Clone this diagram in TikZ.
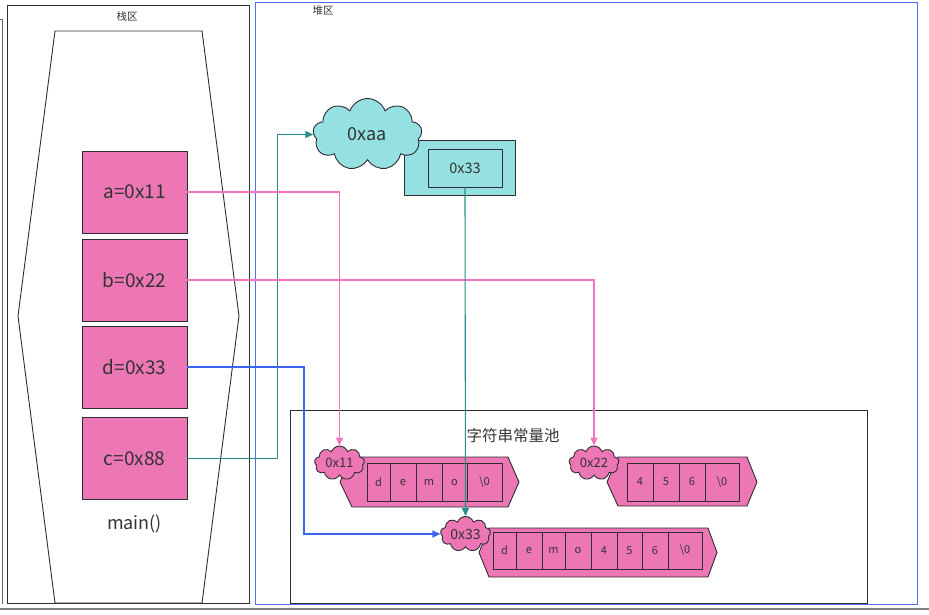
\documentclass[tikz,border=0pt]{standalone}
\usepackage{fontspec}
\setmainfont{Noto Sans CJK SC}
\usetikzlibrary{shapes.symbols,arrows.meta}
\definecolor{pinkf}{RGB}{237,119,181}
\definecolor{cyanf}{RGB}{149,224,224}
\definecolor{edgec}{RGB}{45,45,50}
\definecolor{txtc}{RGB}{51,51,51}
\definecolor{pinkl}{RGB}{242,118,190}
\definecolor{teall}{RGB}{40,140,140}
\definecolor{bluel}{RGB}{60,100,240}
\definecolor{bluef}{RGB}{80,112,240}
\begin{document}
\begin{tikzpicture}[x=1pt,y=-1pt,
  frame/.style={draw=edgec, line width=0.9pt},
  varbox/.style={draw=edgec, fill=pinkf, line width=0.9pt, minimum width=105pt, minimum height=82pt, inner sep=0pt, text=txtc, font=\fontsize{19}{21}\selectfont},
  hexa/.style={draw=edgec, fill=pinkf, line width=0.9pt},
  cell/.style={draw=edgec, fill=pinkf, line width=0.9pt, minimum height=38pt, inner sep=0pt, text=txtc, font=\fontsize{11}{12}\selectfont},
  cloudn/.style={cloud, cloud puffs=9, cloud puff arc=140, cloud ignores aspect, draw=edgec, line width=0.9pt, inner sep=0pt, text=txtc},
  lbl/.style={text=txtc, inner sep=0pt},
  conn/.style={line width=1.1pt, -{Triangle[length=8pt,width=7pt]}}
]
\useasboundingbox (0,0) rectangle (929,614);
% background partial frame and ruler
\draw[draw=gray!80!black, line width=0.9pt] (0,19) -- (2.5,19) -- (2.5,604);
\draw[draw=gray, line width=2pt] (0,609) -- (929,609);
% stack region
\draw[frame] (7,5) rectangle (249.5,603);
\node[lbl, font=\fontsize{10.5}{12}\selectfont] (stk) at (127,17) {栈区};
\draw[draw=edgec, line width=0.9pt] (55,31) -- (202,31) -- (239,316) -- (202,603) -- (55,603) -- (18,316) -- cycle;
% heap region
\draw[draw=bluef, line width=1pt] (255,2) rectangle (917,604);
\node[lbl, font=\fontsize{10.5}{12}\selectfont] (hp) at (323,10.5) {堆区};
% string constant pool
\draw[frame] (290.5,410) rectangle (867.5,603);
\node[lbl, font=\fontsize{15.5}{17}\selectfont] (pool) at (513,435.5) {字符串常量池};
% string shapes
\draw[hexa] (352,457) -- (508,457) -- (519,482) -- (508,507) -- (352,507) -- (340,482) -- cycle;
\foreach \xa/\xb/\t [count=\i] in {367/390/d, 390/416/e, 416/442/m, 442/467/o, 467/502/{\textbackslash 0}}{
  \pgfmathsetmacro\w{\xb-\xa}
  \pgfmathsetmacro\xm{(\xa+\xb)/2}
  \node[cell, minimum width=\w pt] (sa\i) at (\xm,482) {\t};
}
\draw[hexa] (618,457) -- (747,457) -- (757,482) -- (747,506) -- (618,506) -- (607,482) -- cycle;
\foreach \xa/\xb/\t [count=\i] in {627/653/4, 653/679/5, 679/705/6, 705/739/{\textbackslash 0}}{
  \pgfmathsetmacro\w{\xb-\xa}
  \pgfmathsetmacro\xm{(\xa+\xb)/2}
  \node[cell, minimum width=\w pt] (sb\i) at (\xm,482) {\t};
}
\draw[hexa] (489,528) -- (708,528) -- (717,552.5) -- (708,577) -- (489,577) -- (479,552.5) -- cycle;
\foreach \xa/\xb/\t [count=\i] in {493/516/d, 516/542/e, 542/565/m, 565/591/o, 591/617/4, 617/642/5, 642/668/6, 668/702/{\textbackslash 0}}{
  \pgfmathsetmacro\w{\xb-\xa}
  \pgfmathsetmacro\xm{(\xa+\xb)/2}
  \node[cell, minimum width=\w pt, minimum height=37pt] (sc\i) at (\xm,550.5) {\t};
}
% heap object
\node[draw=edgec, fill=cyanf, line width=0.9pt, minimum width=111pt, minimum height=55pt, inner sep=0pt] (obj) at (459.5,167.5) {};
\node[draw=edgec, fill=cyanf, line width=0.9pt, minimum width=74pt, minimum height=38pt, inner sep=0pt, text=txtc, font=\fontsize{14.5}{16}\selectfont] (i33) at (465,168) {0x33};
% clouds
\node[cloudn, fill=cyanf, minimum width=109pt, minimum height=72pt, font=\fontsize{18}{20}\selectfont] (caa) at (367.5,134.5) {0xaa};
\node[cloudn, fill=pinkf, minimum width=50pt, minimum height=34pt, font=\fontsize{13}{14}\selectfont] (c11) at (339.5,463) {0x11};
\node[cloudn, fill=pinkf, minimum width=50pt, minimum height=34pt, font=\fontsize{13}{14}\selectfont] (c22) at (594,463) {0x22};
\node[cloudn, fill=pinkf, minimum width=50pt, minimum height=35pt, font=\fontsize{14}{15}\selectfont] (c33) at (465.5,534) {0x33};
% stack variables
\node[varbox] (va) at (134.5,192) {a=0x11};
\node[varbox] (vb) at (134.5,280) {b=0x22};
\node[varbox] (vd) at (134.5,367) {d=0x33};
\node[varbox] (vc) at (134.5,458.5) {c=0x88};
\node[lbl, font=\fontsize{18}{20}\selectfont] (mainl) at (134.5,524) {main()};
% connectors
\draw[conn, draw=teall] (vc.east) -- ++(90,0) |- (caa.west);
\draw[conn, draw=pinkl] (va.east) -| (c11.north);
\draw[conn, draw=pinkl] (vb.east) -| (c22.north);
\draw[conn, draw=bluel] (vd.east) -- ++(116.5,0) |- (c33.west);
\draw[conn, draw=teall] (i33.south) -- (c33.north);
\end{tikzpicture}
\end{document}
